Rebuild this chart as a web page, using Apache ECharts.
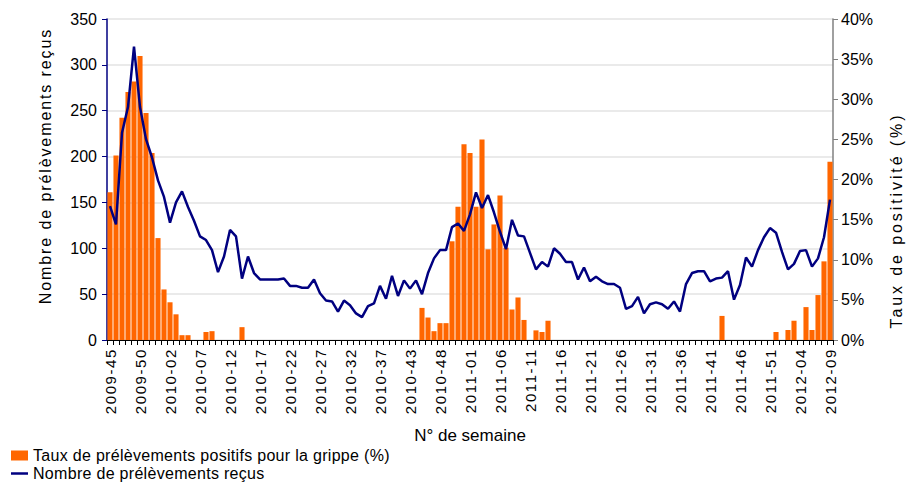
<!DOCTYPE html>
<html>
<head>
<meta charset="utf-8">
<script src="https://cdn.jsdelivr.net/npm/echarts@6/dist/echarts.min.js"></script>
<style>
html,body{margin:0;padding:0;background:#fff;}
#chart{width:912px;height:483px;}
text[style*="lsx"]{letter-spacing:1.6px;}
text[style*="lsy"]{letter-spacing:1.9px;}
text[style*="lsz"]{letter-spacing:2.9px;}
text[style*="lsl"]{letter-spacing:0.3px;}
</style>
</head>
<body>
<div id="chart"></div>
<script>
const weeks = [
"2009-45","2009-46","2009-47","2009-48","2009-49","2009-50","2009-51","2009-52","2009-53",
"2010-01","2010-02","2010-03","2010-04","2010-05","2010-06","2010-07","2010-08","2010-09","2010-10",
"2010-11","2010-12","2010-13","2010-14","2010-15","2010-16","2010-17","2010-18","2010-19","2010-20",
"2010-21","2010-22","2010-23","2010-24","2010-25","2010-26","2010-27","2010-28","2010-29","2010-30",
"2010-31","2010-32","2010-33","2010-34","2010-35","2010-36","2010-37","2010-38","2010-39","2010-40",
"2010-41","2010-43","2010-44","2010-45","2010-46","2010-47","2010-48","2010-49","2010-50","2010-51","2010-52",
"2011-01","2011-02","2011-03","2011-04","2011-05","2011-06","2011-07","2011-08","2011-09","2011-10",
"2011-11","2011-12","2011-13","2011-14","2011-15","2011-16","2011-17","2011-18","2011-19","2011-20",
"2011-21","2011-22","2011-23","2011-24","2011-25","2011-26","2011-27","2011-28","2011-29","2011-30",
"2011-31","2011-32","2011-33","2011-34","2011-35","2011-36","2011-37","2011-38","2011-39","2011-40",
"2011-41","2011-42","2011-43","2011-44","2011-45","2011-46","2011-47","2011-48","2011-49","2011-50",
"2011-51","2011-52",
"2012-01","2012-02","2012-03","2012-04","2012-05","2012-06","2012-07","2012-08","2012-09"
];

// Taux de prélèvements positifs pour la grippe (%)
const positiveRate = [
18.4,23.0,27.7,30.9,32.2,35.4,28.3,23.3,12.7,
6.3,4.7,3.2,0.6,0.6,0,0,1.0,1.1,0,
0,0,0,1.6,0,0,0,0,0,0,
0,0,0,0,0,0,0,0,0,0,
0,0,0,0,0,0,0,0,0,0,
0,0,0,4.0,2.8,1.1,2.1,2.1,12.3,16.6,
24.4,23.3,16.6,25.0,11.3,14.4,18.0,11.5,3.8,5.3,
2.5,0,1.2,1.0,2.4,0,0,0,0,0,
0,0,0,0,0,0,0,0,0,0,
0,0,0,0,0,0,0,0,0,0,
0,0,0,3.0,0,0,0,0,0,0,
0,0,1.0,0,1.25,2.4,0,4.1,1.25,5.6,
9.8,22.2
];

// Nombre de prélèvements reçus
const samplesReceived = [
146,126,226,254,320,254,219,199,174,
156,128,150,162,145,130,113,109,98,74,
91,120,113,67,91,73,66,66,66,66,
67,59,59,57,57,66,51,43,42,31,
43,38,29,25,37,40,59,45,70,48,
65,56,65,50,73,89,98,98,123,127,
119,137,161,144,158,139,118,99,131,114,
113,95,77,85,80,100,94,85,85,66,
79,64,69,64,61,61,57,34,37,47,
29,39,41,39,34,42,31,61,73,75,
75,64,67,68,75,44,60,90,80,98,
112,122,117,96,77,83,97,98,80,89,
112,153
];

const countAxis = {min: 0, max: 350, interval: 50};
const rateAxis = {min: 0, max: 40, interval: 5};

const seriesNames = ["Taux de prélèvements positifs pour la grippe (%)", "Nombre de prélèvements reçus"];

const chart = echarts.init(document.getElementById('chart'), null, {renderer: 'svg'});
const FONT = 'Liberation Sans';
const legendText = {fontSize: 16, lineHeight: 17, color: '#000', fontFamily: FONT + ', lsl'};
chart.setOption({
  animation: false,
  backgroundColor: '#fff',
  grid: {left: 107, right: 72, top: 19, bottom: 143, containLabel: false},
  legend: [
    {
      left: 11, top: 447, itemWidth: 17, itemHeight: 10, padding: 0,
      textStyle: legendText,
      data: [{name: seriesNames[0], icon: 'rect'}]
    },
    {
      left: 11, top: 465, itemWidth: 17, itemHeight: 2.5, padding: 0,
      textStyle: legendText,
      data: [{name: seriesNames[1], icon: 'rect', itemStyle: {color: '#000080'}}]
    }
  ],
  xAxis: {
    type: 'category', data: weeks, boundaryGap: true,
    axisLine: {lineStyle: {color: '#000', width: 1}},
    axisTick: {show: true, interval: 0, length: 5, lineStyle: {color: '#000'}},
    axisLabel: {interval: 4, rotate: 90, margin: 8, color: '#000', fontSize: 15, fontFamily: FONT + ', lsx'},
    splitLine: {show: false},
    name: 'N° de semaine', nameLocation: 'middle', nameGap: 87,
    nameTextStyle: {fontSize: 17, color: '#000', fontFamily: FONT}
  },
  yAxis: [
    {
      type: 'value', position: 'left', min: countAxis.min, max: countAxis.max, interval: countAxis.interval,
      axisLine: {show: true, lineStyle: {color: '#000080', width: 1.5}},
      axisTick: {show: true, length: 5, lineStyle: {color: '#000080'}},
      axisLabel: {color: '#000', fontSize: 16, margin: 10, fontFamily: FONT},
      splitLine: {show: true, lineStyle: {color: '#e3e3e3', width: 1.5}},
      name: 'Nombre de prélèvements reçus', nameLocation: 'middle', nameRotate: 90, nameGap: 54,
      nameTextStyle: {fontSize: 16, color: '#000', fontFamily: FONT + ', lsy', padding: [0, 0, 0, 27]}
    },
    {
      type: 'value', position: 'right', min: rateAxis.min, max: rateAxis.max, interval: rateAxis.interval,
      axisLine: {show: true, lineStyle: {color: '#808080', width: 1.5}},
      axisTick: {show: true, length: 5, lineStyle: {color: '#808080'}},
      axisLabel: {formatter: '{value}%', color: '#000', fontSize: 16, margin: 8, fontFamily: FONT},
      splitLine: {show: false},
      name: 'Taux de positivité (%)', nameLocation: 'middle', nameRotate: 90, nameGap: 55,
      nameTextStyle: {fontSize: 16, color: '#000', fontFamily: FONT + ', lsz', padding: [0, 82, 0, 0]}
    }
  ],
  series: [
    {
      name: seriesNames[0], type: 'bar', yAxisIndex: 1, data: positiveRate,
      itemStyle: {color: '#FF6600'}, barCategoryGap: '15%'
    },
    {
      name: seriesNames[1], type: 'line', yAxisIndex: 0, data: samplesReceived,
      symbol: 'none', showSymbol: false,
      lineStyle: {color: '#000080', width: 2.5}, itemStyle: {color: '#000080'}
    }
  ]
});
</script>
</body>
</html>
